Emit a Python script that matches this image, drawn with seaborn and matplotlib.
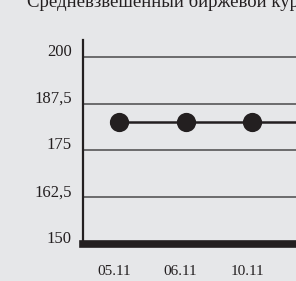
import matplotlib
matplotlib.use("Agg")
import matplotlib.pyplot as plt
import matplotlib.transforms as mtransforms
import seaborn as sns
import pandas as pd

dates = ["05.11", "06.11", "10.11", "11.11"]
values = [182.5, 182.5, 182.5, 182.5]
yticks = [150, 162.5, 175, 187.5, 200]
ytick_labels = ["150", "162,5", "175", "187,5", "200"]
title = "Средневзвешенный биржевой курс"

BG = "#e6e7e9"
DARK = "#231f20"

sns.set_theme(style="white")
plt.rcParams["font.family"] = ["Liberation Serif", "DejaVu Serif"]

df = pd.DataFrame({"date": dates, "value": values})

fig = plt.figure(figsize=(2.96, 2.81), dpi=100, facecolor=BG)
ax = fig.add_axes([83 / 296, 37 / 281, 1 - 83 / 296, (244 - 40) / 281])
ax.set_facecolor(BG)

sns.pointplot(data=df, x="date", y="value", ax=ax, color=DARK,
              markers="o", markersize=12.5, linewidth=1.8, errorbar=None)

ax.set_xlim(-0.54, 2.66)
ax.set_ylim(150, 204.5)
ax.set_yticks(yticks)
ax.set_yticklabels(ytick_labels)
ax.set_xlabel("")
ax.set_ylabel("")

ax.yaxis.grid(True, color="#4a4a4a", linewidth=1.1)
ax.xaxis.grid(False)
ax.set_axisbelow(True)

for s in ["top", "right"]:
    ax.spines[s].set_visible(False)
ax.spines["left"].set_color(DARK)
ax.spines["left"].set_linewidth(1.6)
ax.spines["bottom"].set_color(DARK)
ax.spines["bottom"].set_linewidth(5.5)

ax.tick_params(axis="both", length=0, colors=DARK)
ax.tick_params(axis="y", pad=8, labelsize=12)
ax.tick_params(axis="x", pad=15, labelsize=11)

xoff = mtransforms.ScaledTranslation(-5 / 100, 0, fig.dpi_scale_trans)
for lbl in ax.get_xticklabels():
    lbl.set_transform(lbl.get_transform() + xoff)
yoff = mtransforms.ScaledTranslation(0, 7 / 100, fig.dpi_scale_trans)
for lbl in ax.get_yticklabels():
    lbl.set_transform(lbl.get_transform() + yoff)

fig.text(27 / 296, (281 - 7) / 281, title, fontsize=13.5, color=DARK,
         ha="left", va="baseline")

fig.savefig("out.png", dpi=100, facecolor=BG)
